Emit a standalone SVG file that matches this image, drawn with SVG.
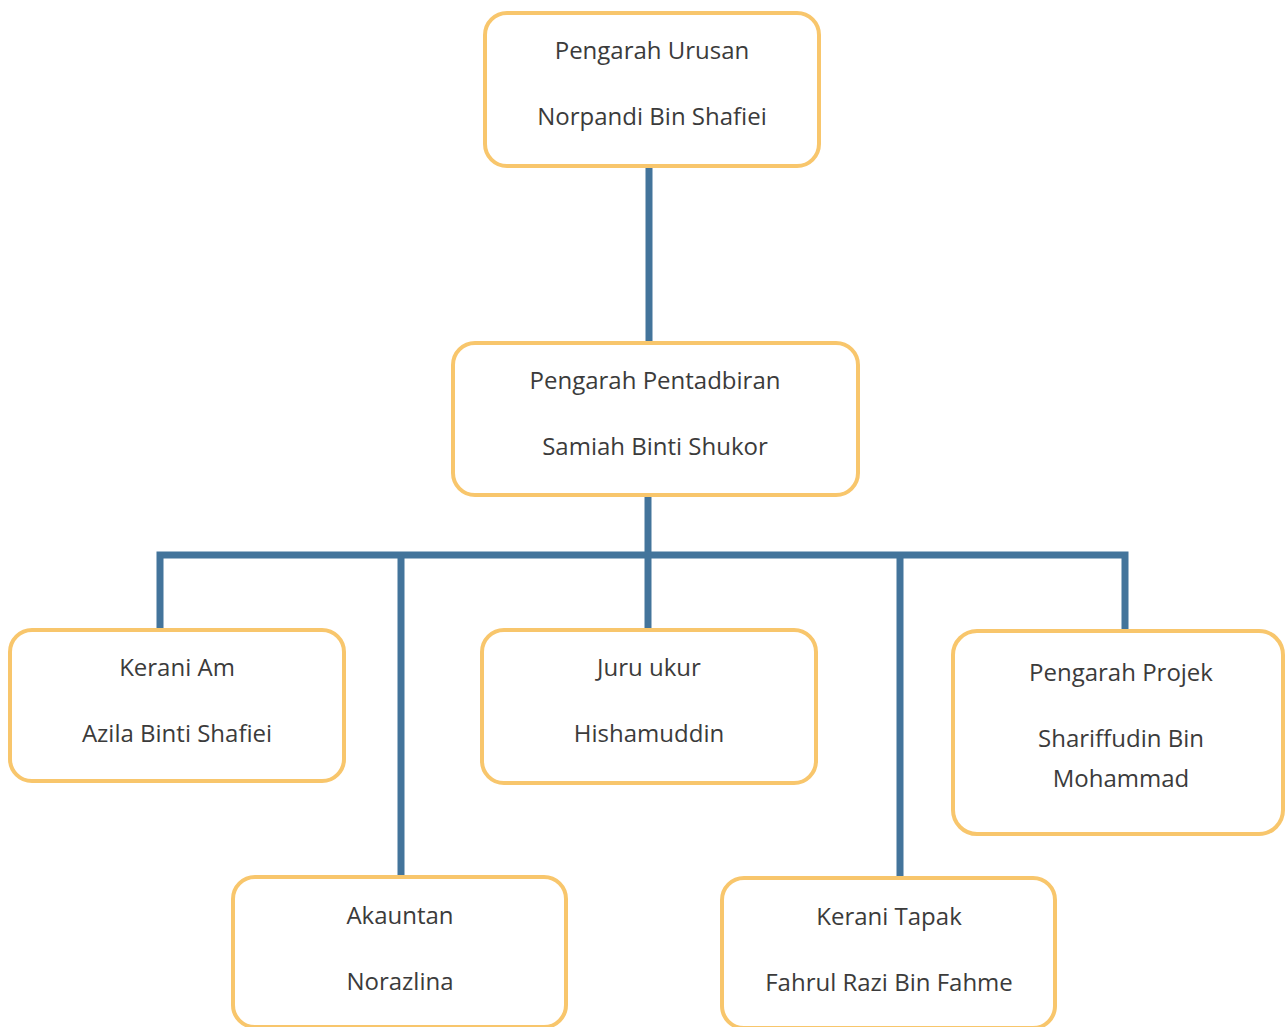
<svg xmlns="http://www.w3.org/2000/svg" width="1285" height="1027" viewBox="0 0 1285 1027">
<style>
.box{fill:#ffffff;stroke:#F8C66C;stroke-width:4}
.t{font-family:"Open Sans","Noto Sans",sans-serif;font-size:24px;fill:#3b3b3b;text-anchor:middle}
.c{stroke:#43749B;stroke-width:7;fill:none}
</style>
<rect width="1285" height="1027" fill="#ffffff"/>
<g id="connectors">
<line class="c" x1="649" y1="166" x2="649" y2="343"/>
<line class="c" x1="648" y1="495" x2="648" y2="555"/>
<polyline class="c" points="160,630 160,555 1125,555 1125,631"/>
<line class="c" x1="401" y1="555" x2="401" y2="877"/>
<line class="c" x1="648" y1="555" x2="648" y2="630"/>
<line class="c" x1="900" y1="555" x2="900" y2="878"/>
</g>
<g id="n-urusan">
<rect class="box" x="485" y="13" width="334" height="153" rx="22"/>
<text class="t" x="652" y="59">Pengarah Urusan</text>
<text class="t" x="652" y="125">Norpandi Bin Shafiei</text>
</g>
<g id="n-pentadbiran">
<rect class="box" x="453" y="343" width="405" height="152" rx="22"/>
<text class="t" x="655" y="389">Pengarah Pentadbiran</text>
<text class="t" x="655" y="455">Samiah Binti Shukor</text>
</g>
<g id="n-kerani-am">
<rect class="box" x="10" y="630" width="334" height="151" rx="22"/>
<text class="t" x="177" y="676">Kerani Am</text>
<text class="t" x="177" y="742">Azila Binti Shafiei</text>
</g>
<g id="n-juru-ukur">
<rect class="box" x="482" y="630" width="334" height="153" rx="22"/>
<text class="t" x="649" y="676">Juru ukur</text>
<text class="t" x="649" y="742">Hishamuddin</text>
</g>
<g id="n-projek">
<rect class="box" x="953" y="631" width="330" height="203" rx="24"/>
<text class="t" x="1121" y="681">Pengarah Projek</text>
<text class="t" x="1121" y="747">Shariffudin Bin</text>
<text class="t" x="1121" y="787">Mohammad</text>
</g>
<g id="n-akauntan">
<rect class="box" x="233" y="877" width="333" height="150" rx="22"/>
<text class="t" x="400" y="924">Akauntan</text>
<text class="t" x="400" y="990">Norazlina</text>
</g>
<g id="n-kerani-tapak">
<rect class="box" x="722" y="878" width="333" height="150" rx="22"/>
<text class="t" x="889" y="925">Kerani Tapak</text>
<text class="t" x="889" y="991">Fahrul Razi Bin Fahme</text>
</g>
</svg>
